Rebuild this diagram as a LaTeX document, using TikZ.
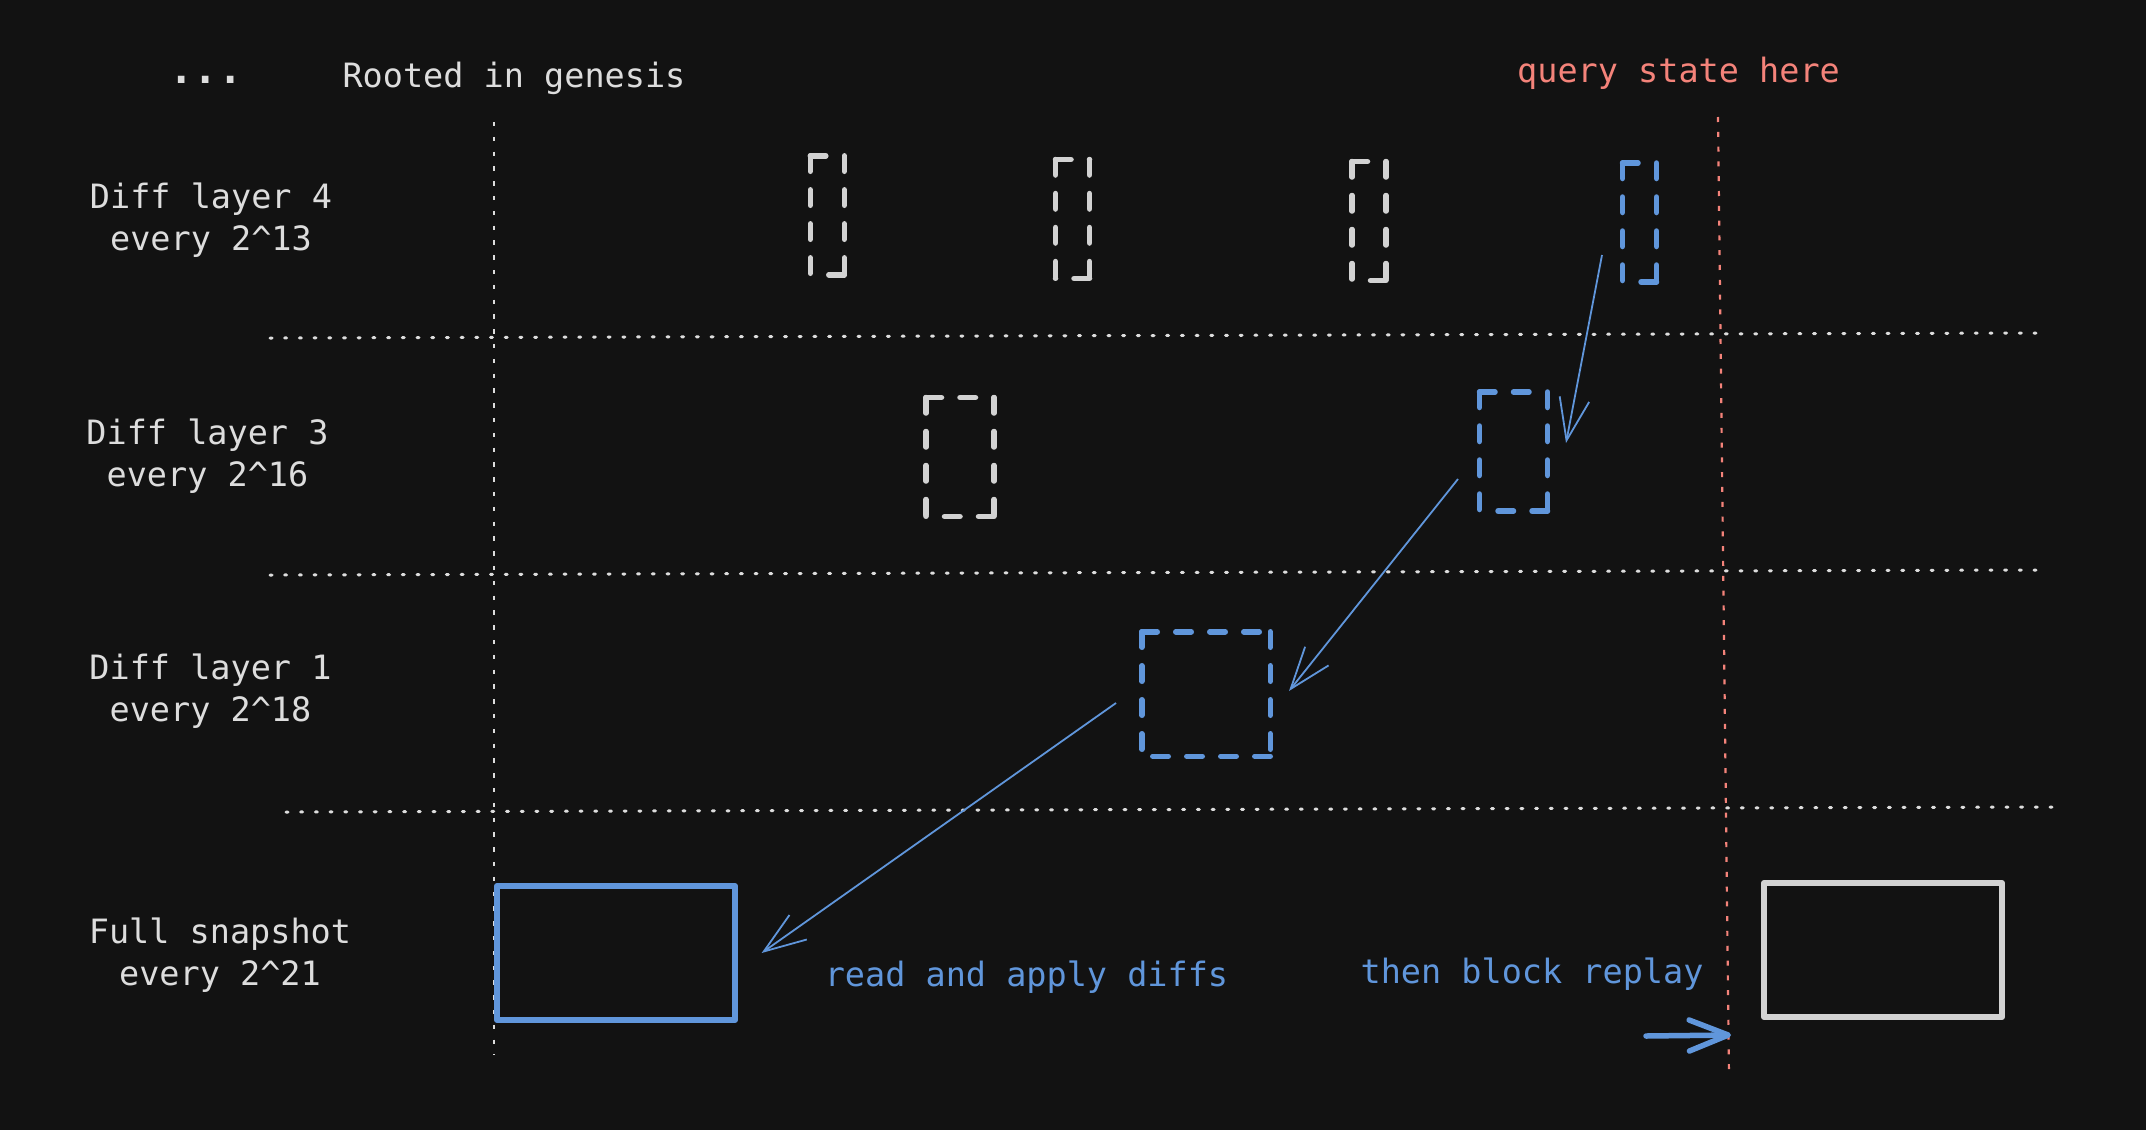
\documentclass[tikz,border=0pt]{standalone}
\usepackage{fontspec}
\newfontfamily\monof{DejaVu Sans Mono}
\usetikzlibrary{arrows.meta}
\definecolor{bg}{HTML}{121212}
\definecolor{txt}{HTML}{DDDDDD}
\definecolor{gry}{HTML}{D2D2D2}
\definecolor{blu}{HTML}{6096DB}
\definecolor{qred}{HTML}{F4837A}
\newcommand\dashsides[2]{%
  \draw[#2] (#1.north west) -- (#1.north east);
  \draw[#2] (#1.north west) -- (#1.south west);
  \draw[#2] (#1.north east) -- (#1.south east);
  \draw[#2] (#1.south east) -- (#1.south west);
}
\tikzset{
  lbl/.style={font=\monof\fontsize{33.5}{42}\selectfont, text=txt, inner sep=0pt, anchor=base, align=center},
  slot/.style={draw=none, inner sep=0pt, outer sep=0pt},
  dashw/.style={gry, line width=5.5pt, line cap=round, dash pattern=on 15.5pt off 18.5pt},
  dashb/.style={blu, line width=5.5pt, line cap=round, dash pattern=on 15.5pt off 18.5pt},
  solidbox/.style={draw, line width=6pt, inner sep=0pt, outer sep=0pt, line join=round},
  sep/.style={txt, line width=3pt, line cap=round, dash pattern=on 2pt off 12.7pt},
  vsep/.style={txt, line width=2.2pt, dash pattern=on 4.3pt off 10.5pt},
  rsep/.style={qred, line width=2.2pt, dash pattern=on 5pt off 9.8pt},
  thinarrow/.style={blu, line width=1.8pt, -{Straight Barb[length=42pt,width=30pt]}},
  thickarrow/.style={blu, line width=5.5pt, line cap=round, -{Straight Barb[length=39pt,width=31pt,line cap=round,round]}},
}
\begin{document}
\begin{tikzpicture}[x=1pt,y=-1pt]
\useasboundingbox (0,0) rectangle (2146,1130);
\fill[bg] (0,0) rectangle (2146,1130);

% separators
\draw[sep] (270,338) -- (2043,333);
\draw[sep] (270,575) -- (2043,570);
\draw[sep] (286,812) -- (2058,807);
\draw[vsep] (494,122) -- (494,1055);
\draw[rsep] (1718,117) -- (1729,1078);

% top texts
\node[lbl, font=\monof\bfseries\fontsize{40.4}{48}\selectfont] (dots) at (206,83.5) {...};
\node[lbl] (root) at (514,87) {Rooted in genesis};
\node[lbl, text=qred] (query) at (1678.5,82) {query state here};

% row labels (anchor base = last line)
\node[lbl] (r4) at (211,250) {Diff layer 4\\every 2\^{}13};
\node[lbl] (r3) at (207.5,486) {Diff layer 3\\every 2\^{}16};
\node[lbl] (r1) at (210.5,721) {Diff layer 1\\every 2\^{}18};
\node[lbl] (r0) at (220,985) {Full snapshot\\every 2\^{}21};

% layer 4 boxes
\node[slot, minimum width=34pt, minimum height=119pt] (l4a) at (827.3,215.3) {};
\node[slot, minimum width=34pt, minimum height=119pt] (l4b) at (1072.5,219) {};
\node[slot, minimum width=34pt, minimum height=119pt] (l4c) at (1369,221) {};
\node[slot, minimum width=34pt, minimum height=119pt] (l4d) at (1639.5,222.5) {};
\dashsides{l4a}{dashw}
\dashsides{l4b}{dashw}
\dashsides{l4c}{dashw}
\dashsides{l4d}{dashb}

% layer 3 boxes
\node[slot, minimum width=68pt, minimum height=119pt] (l3a) at (960,457) {};
\node[slot, minimum width=68pt, minimum height=119pt] (l3b) at (1513.5,451.5) {};
\dashsides{l3a}{dashw}
\dashsides{l3b}{dashb}

% layer 1 box
\node[slot, minimum width=128.5pt, minimum height=124.5pt] (l1) at (1206,694) {};
\dashsides{l1}{dashb}

% full snapshots
\node[solidbox, blu, minimum width=238pt, minimum height=134pt] (fs) at (616,953) {};
\node[solidbox, gry, minimum width=238pt, minimum height=134pt] (fe) at (1883,950) {};

% arrow end points
\coordinate (a1s) at (1602,255);
\coordinate (a1e) at (1566,443);
\coordinate (a2s) at (1458,479);
\coordinate (a2e) at (1289,691);
\coordinate (a3s) at (1116,703);
\coordinate (a3e) at (761.6,953);
\coordinate (a4s) at (1646,1036);
\coordinate (a4e) at (1731,1035);

\draw[thinarrow] (a1s) -- (a1e);
\draw[thinarrow] (a2s) -- (a2e);
\draw[thinarrow] (a3s) -- (a3e);
\draw[thickarrow] (a4s) -- (a4e);

% blue texts
\node[lbl, text=blu] (rd) at (1026.5,986) {read and apply diffs};
\node[lbl, text=blu] (tb) at (1532,983) {then block replay};
\end{tikzpicture}
\end{document}
